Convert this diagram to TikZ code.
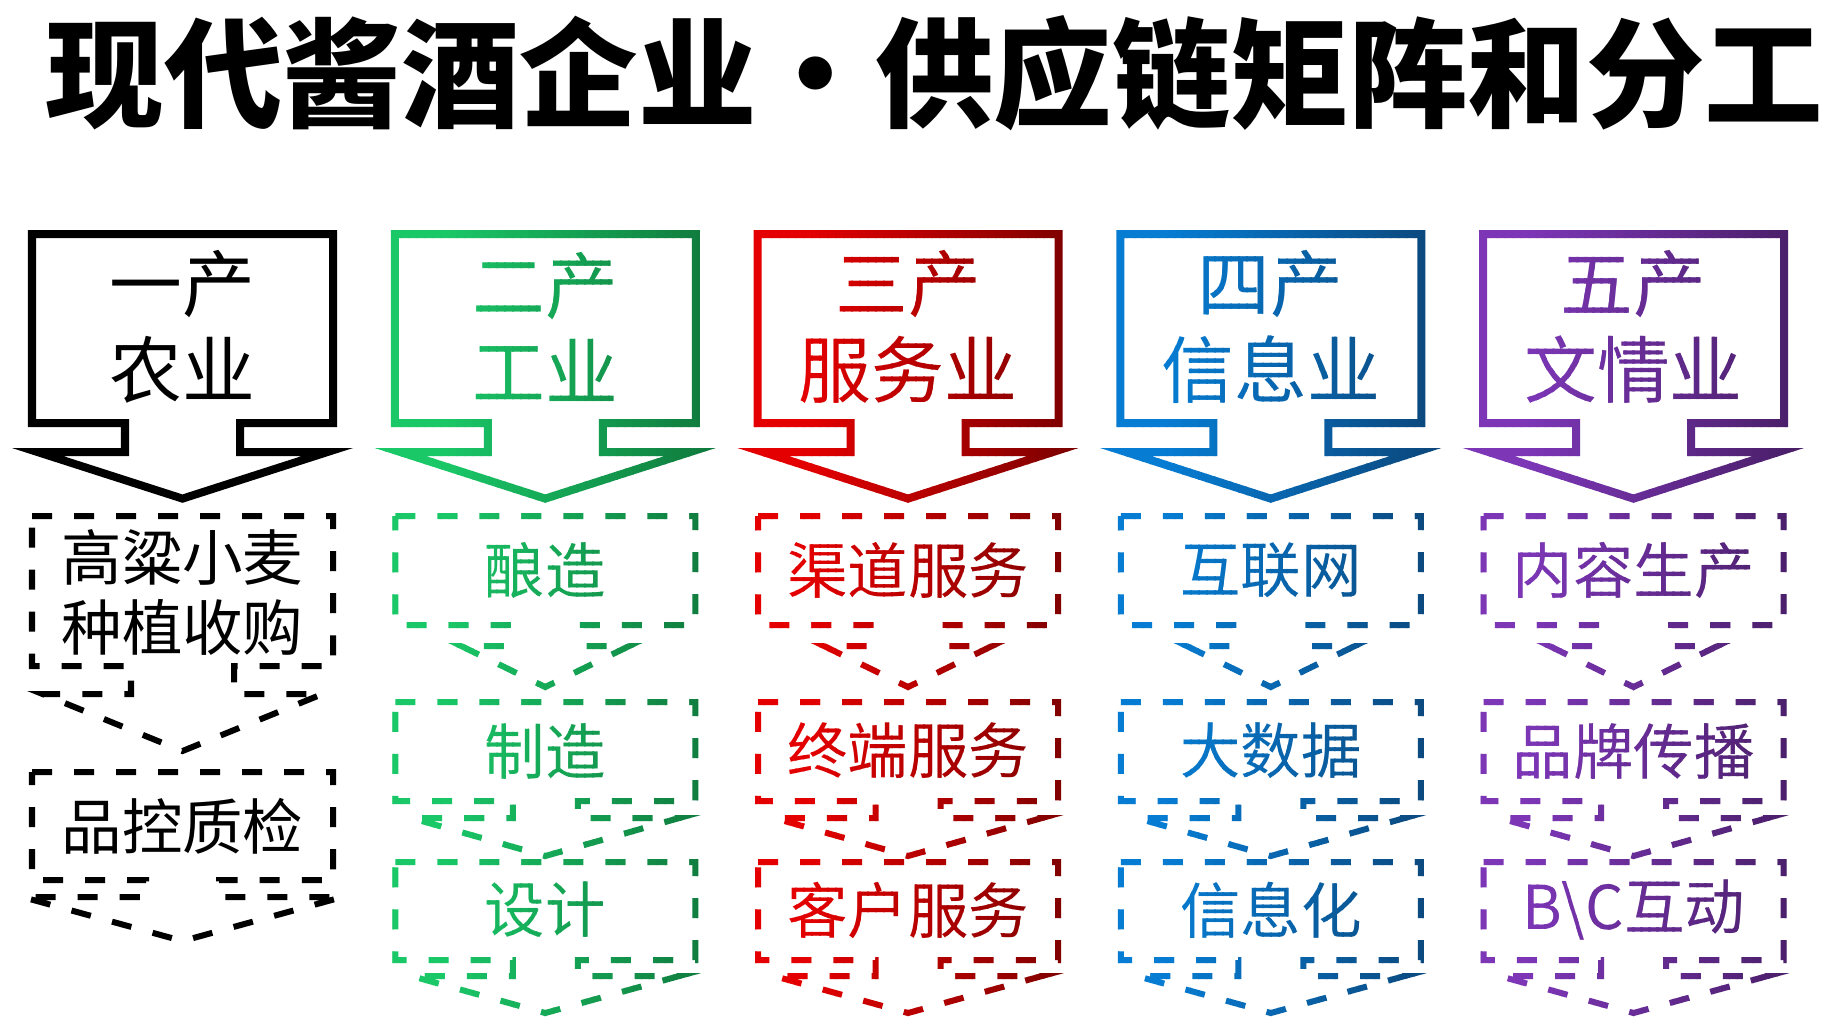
\documentclass[tikz,border=0pt]{standalone}
\usepackage{fontspec}
\usepackage{xcolor}
\usepackage{tikz}
\newfontfamily\cjk{Noto Sans CJK SC}
\definecolor{zyGreenA}{RGB}{26,200,104}
\definecolor{zyGreenB}{RGB}{15,120,60}
\definecolor{zyRedA}{RGB}{228,0,0}
\definecolor{zyRedB}{RGB}{122,0,0}
\definecolor{zyBlueA}{RGB}{6,124,210}
\definecolor{zyBlueB}{RGB}{12,70,122}
\definecolor{zyPurpleA}{RGB}{124,54,182}
\definecolor{zyPurpleB}{RGB}{72,30,102}
\tikzset{
    shell/.style={
        line width=0.08cm
    },
    dashbox/.style={
        line width=0.06cm,
        dash pattern=on 0.2cm off 0.22cm
    },
    headtext/.style={
        font=\cjk\fontsize{20.7pt}{24.5pt}\selectfont,
        align=center,
        inner sep=0pt
    },
    itemtext/.style={
        font=\cjk\fontsize{17.2pt}{19.9pt}\selectfont,
        align=center,
        inner sep=0pt
    },
    titletext/.style={
        font=\cjk\bfseries\fontsize{33.7pt}{40pt}\selectfont,
        inner sep=0pt
    }
}
% down arrow callout: centre, top, bottom, half width, stem, wing line, wing, tip
\newcommand{\callout}[9][]{%
    \draw[#1] (#2-#5,#3) -- (#2+#5,#3) -- (#2+#5,#4) -- (#2+#6,#4) -- (#2+#6,#7)
        -- (#2+#8,#7) -- (#2,#9) -- (#2-#8,#7) -- (#2-#6,#7) -- (#2-#6,#4)
        -- (#2-#5,#4) -- cycle;}
% one coloured column, drawn in thin vertical strips for the colour ramp
\newcommand{\gradcolumn}[8]{%
    \foreach \k in {0,...,43} {
        \pgfmathsetmacro{\xa}{#1-176+8*\k}
        \pgfmathsetmacro{\mix}{max(0,(\k/43-0.2)/0.8)*100}
        \begin{scope}
            \clip (\xa-0.6,200) rectangle (\xa+8.6,1026);
            \begin{scope}[color=#3!\mix!#2]
                \callout[shell]{#1}{234}{423}{150.5}{57.5}{452}{145}{498.6}
                \node[headtext] (head-#4) at (#1,327) {#5};
                \callout[dashbox]{#1}{516}{625}{150}{37.5}{646}{84}{687}
                \node[itemtext] (#4-a) at (#1,570) {#6};
                \callout[dashbox]{#1}{702}{801}{150}{32.5}{818}{134}{856}
                \node[itemtext] (#4-b) at (#1,751) {#7};
                \callout[dashbox]{#1}{862}{960}{150}{32.5}{976}{134}{1013}
                \node[itemtext] (#4-c) at (#1,910) {#8};
            \end{scope}
        \end{scope}
    }}

\begin{document}
\begin{tikzpicture}[x=0.01cm, y=-0.01cm]
    \path[use as bounding box, fill=white] (0,0) rectangle (1836,1026);

    % Title
    \node[titletext] (title) at (934.5,73) {现代酱酒企业\makebox[1em]{·}供应链矩阵和分工};

    % Column one
    \callout[shell]{182.5}{234}{423}{150.5}{57.5}{452}{145}{498.6}
    \node[headtext] (head-one) at (182.5,327) {一产\\农业};
    \callout[dashbox]{182.5}{516}{666}{150.5}{51.5}{694}{140}{751}
    \node[itemtext] (one-a) at (182.5,592) {高粱小麦\\种植收购};
    \callout[dashbox]{182.5}{772}{880}{150.5}{36.5}{897}{160}{941}
    \node[itemtext] (one-b) at (182.5,826) {品控质检};

    % Columns two to five
    \gradcolumn{545.25}{zyGreenA}{zyGreenB}{two}{二产\\工业}{酿造}{制造}{设计}
    \gradcolumn{908}{zyRedA}{zyRedB}{three}{三产\\服务业}{渠道服务}{终端服务}{客户服务}
    \gradcolumn{1270.75}{zyBlueA}{zyBlueB}{four}{四产\\信息业}{互联网}{大数据}{信息化}
    \gradcolumn{1633.5}{zyPurpleA}{zyPurpleB}{five}{五产\\文情业}{内容生产}{品牌传播}{B\textbackslash C互动}

\end{tikzpicture}
\end{document}
